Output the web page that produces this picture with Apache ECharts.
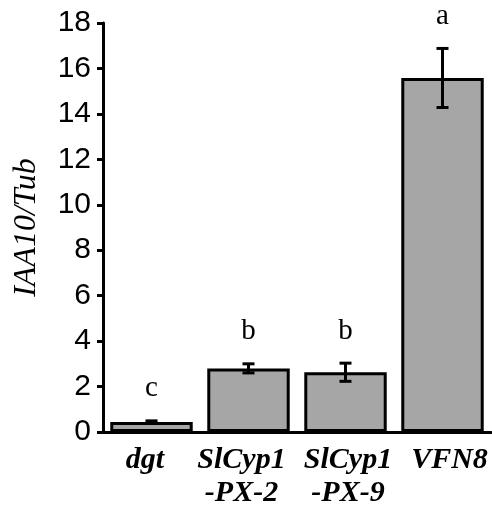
<!DOCTYPE html>
<html>
<head>
<meta charset="utf-8">
<script src="https://cdn.jsdelivr.net/npm/echarts@6/dist/echarts.min.js"></script>
<style>html,body{margin:0;padding:0;background:#fff;}#c{width:492px;height:514px;}</style>
</head>
<body>
<div id="c"></div>
<script>
var categories = ['dgt', 'SlCyp1\n-PX-2', 'SlCyp1\n-PX-9', 'VFN8'];
var means = [0.44, 2.8, 2.63, 15.58];
var errors = [0.05, 0.2, 0.4, 1.3];
var letters = ['c', 'b', 'b', 'a'];
var yTicks = [0, 2, 4, 6, 8, 10, 12, 14, 16, 18];

// per-label horizontal nudges (px) as placed in the original figure
var labelPads = [[0, 13, 0, 0], [0, 14, 0, 0], [0, 0, 0, 5], [0, 0, 0, 14]];

var chart = echarts.init(document.getElementById('c'));
var errData = means.map(function (m, i) { return [i, m, errors[i]]; });

chart.setOption({
  animation: false,
  grid: { left: 103, right: 1, top: 23, bottom: 82, containLabel: false, outerBoundsMode: 'none' },
  xAxis: {
    type: 'category',
    data: categories.map(function (c, i) { return { value: c, textStyle: { padding: labelPads[i] } }; }),
    axisLine: { lineStyle: { color: '#000', width: 3 } },
    axisTick: { show: false },
    axisLabel: {
      color: '#000', fontFamily: 'Liberation Serif', fontStyle: 'italic', fontWeight: 'bold',
      fontSize: 30, lineHeight: 33, margin: 12, interval: 0
    }
  },
  yAxis: {
    type: 'value', min: 0, max: 18, interval: 2,
    name: 'IAA10/Tub', nameLocation: 'middle', nameGap: 60,
    nameTextStyle: { color: '#000', fontFamily: 'Liberation Serif', fontStyle: 'italic', fontSize: 32 },
    axisLine: { show: true, lineStyle: { color: '#000', width: 3 } },
    axisTick: { show: true, length: 6, lineStyle: { color: '#000', width: 3 } },
    splitLine: { show: false },
    axisLabel: {
      color: '#000', fontFamily: 'Liberation Sans', fontSize: 30, margin: 12,
      formatter: function (v) { return yTicks.indexOf(v) >= 0 ? String(v) : ''; }
    }
  },
  series: [
    {
      type: 'bar', data: means, barCategoryGap: '15%',
      itemStyle: { color: '#a6a6a6', borderColor: '#000', borderWidth: 3 }
    },
    {
      type: 'custom', data: errData, z: 10,
      renderItem: function (params, api) {
        var i = api.value(0), m = api.value(1), e = api.value(2);
        var top = api.coord([i, m + e]);
        var bot = api.coord([i, m - e]);
        var x = top[0], cw = 6;
        return {
          type: 'group',
          children: [
            { type: 'line', shape: { x1: x, y1: top[1], x2: x, y2: bot[1] }, style: { stroke: '#000', lineWidth: 3 } },
            { type: 'line', shape: { x1: x - cw, y1: top[1], x2: x + cw, y2: top[1] }, style: { stroke: '#000', lineWidth: 3 } },
            { type: 'line', shape: { x1: x - cw, y1: bot[1], x2: x + cw, y2: bot[1] }, style: { stroke: '#000', lineWidth: 3 } },
            { type: 'text', x: x, y: top[1] - 32, style: {
                text: letters[params.dataIndex], fill: '#000', font: '29px "Liberation Serif"',
                align: 'center', verticalAlign: 'middle' } }
          ]
        };
      }
    }
  ]
});
</script>
</body>
</html>
